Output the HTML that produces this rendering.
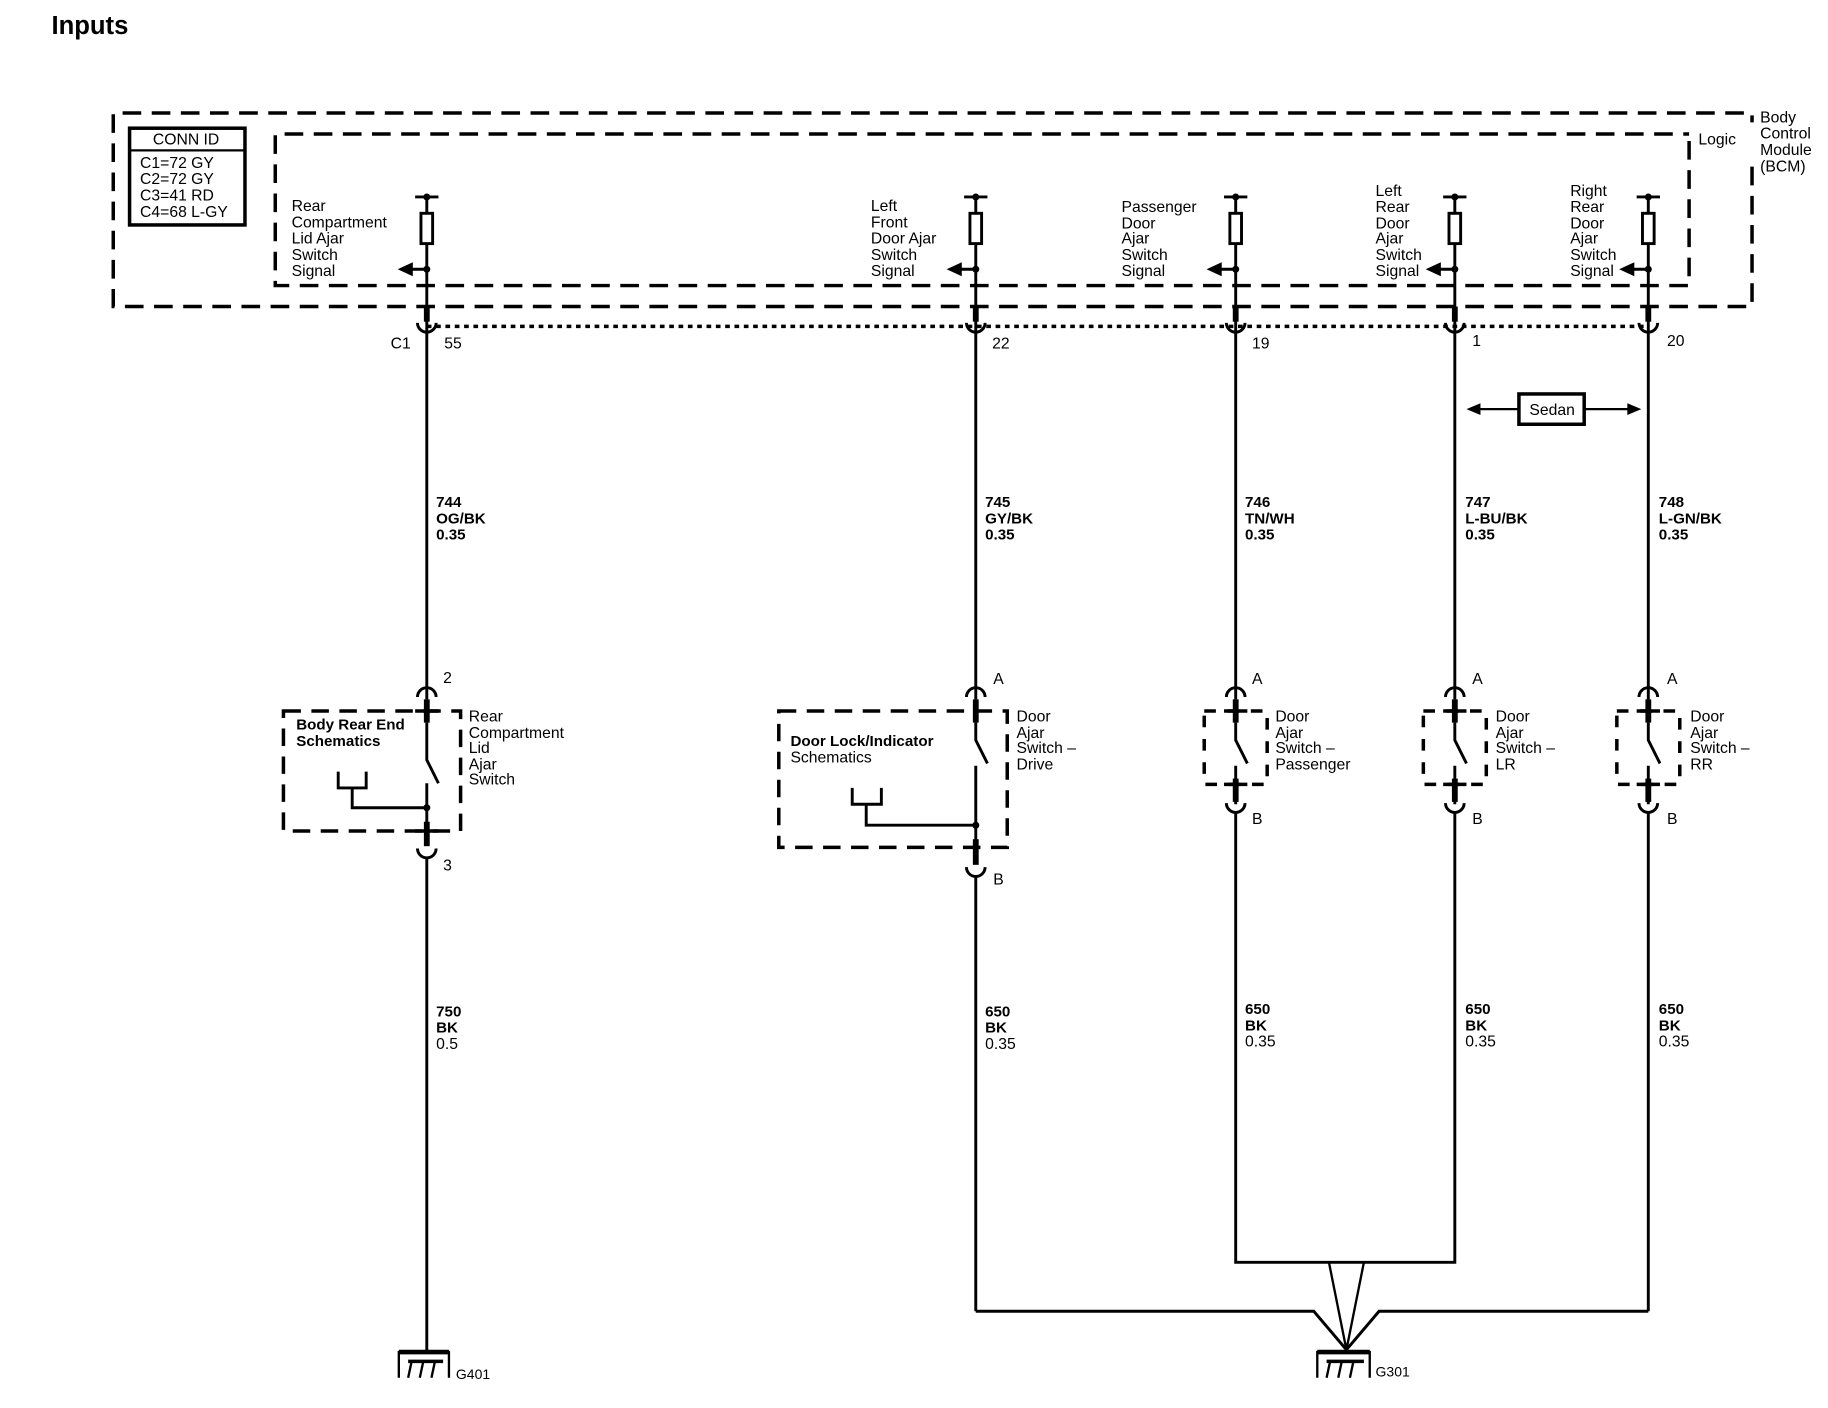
<!DOCTYPE html>
<html><head><meta charset="utf-8"><style>
html,body{margin:0;padding:0;background:#fff;}
svg{display:block}
text{font-family:"Liberation Sans",sans-serif;font-size:13.5px;fill:#000;letter-spacing:0px}
.b{font-weight:bold;font-size:13px}
</style></head><body>
<svg width="1828" height="1408" viewBox="0 0 1568 1208" xmlns="http://www.w3.org/2000/svg">
<g fill="none" stroke="#000">
<path d="M1503,143 V263 H97 V97 H1503 V105" stroke-width="3" stroke-dasharray="16 9"/>
<path d="M1449,121 V245 H236 V115 H1449" stroke-width="3" stroke-dasharray="16 9"/>
<rect x="111" y="110" width="99" height="83" stroke-width="3"/>
<line x1="111" y1="129" x2="210" y2="129" stroke-width="2"/>
<line x1="366" y1="280" x2="1414" y2="280" stroke-width="3" stroke-dasharray="4 4"/>
</g>
<text x="44" y="29" class="b" style="font-size:22px">Inputs</text>
<text x="131" y="124">CONN ID</text>
<text x="120" y="144">C1=72 GY</text>
<text x="120" y="158">C2=72 GY</text>
<text x="120" y="172">C3=41 RD</text>
<text x="120" y="186">C4=68 L-GY</text>
<text x="1510" y="105">Body</text>
<text x="1510" y="119">Control</text>
<text x="1510" y="133">Module</text>
<text x="1510" y="147">(BCM)</text>
<text x="1457" y="124">Logic</text>

<g stroke="#000" fill="none">
<g>
<line x1="366" y1="169" x2="366" y2="600" stroke-width="2.5"/>
<line x1="356" y1="169" x2="376" y2="169" stroke-width="2.5"/>
<rect x="361" y="183" width="10" height="26" stroke-width="2.5" fill="#fff"/>
<line x1="366" y1="231" x2="352" y2="231" stroke-width="2.5"/>
<line x1="366" y1="263" x2="366" y2="276" stroke-width="5"/>
<path d="M358,277 A8,8 0 0 0 374,277" stroke-width="2.5"/>
</g>
<g>
<line x1="837" y1="169" x2="837" y2="600" stroke-width="2.5"/>
<line x1="827" y1="169" x2="847" y2="169" stroke-width="2.5"/>
<rect x="832" y="183" width="10" height="26" stroke-width="2.5" fill="#fff"/>
<line x1="837" y1="231" x2="823" y2="231" stroke-width="2.5"/>
<line x1="837" y1="263" x2="837" y2="276" stroke-width="5"/>
<path d="M829,277 A8,8 0 0 0 845,277" stroke-width="2.5"/>
</g>
<g>
<line x1="1060" y1="169" x2="1060" y2="600" stroke-width="2.5"/>
<line x1="1050" y1="169" x2="1070" y2="169" stroke-width="2.5"/>
<rect x="1055" y="183" width="10" height="26" stroke-width="2.5" fill="#fff"/>
<line x1="1060" y1="231" x2="1046" y2="231" stroke-width="2.5"/>
<line x1="1060" y1="263" x2="1060" y2="276" stroke-width="5"/>
<path d="M1052,277 A8,8 0 0 0 1068,277" stroke-width="2.5"/>
</g>
<g>
<line x1="1248" y1="169" x2="1248" y2="600" stroke-width="2.5"/>
<line x1="1238" y1="169" x2="1258" y2="169" stroke-width="2.5"/>
<rect x="1243" y="183" width="10" height="26" stroke-width="2.5" fill="#fff"/>
<line x1="1248" y1="231" x2="1234" y2="231" stroke-width="2.5"/>
<line x1="1248" y1="263" x2="1248" y2="276" stroke-width="5"/>
<path d="M1240,277 A8,8 0 0 0 1256,277" stroke-width="2.5"/>
</g>
<g>
<line x1="1414" y1="169" x2="1414" y2="600" stroke-width="2.5"/>
<line x1="1404" y1="169" x2="1424" y2="169" stroke-width="2.5"/>
<rect x="1409" y="183" width="10" height="26" stroke-width="2.5" fill="#fff"/>
<line x1="1414" y1="231" x2="1400" y2="231" stroke-width="2.5"/>
<line x1="1414" y1="263" x2="1414" y2="276" stroke-width="5"/>
<path d="M1406,277 A8,8 0 0 0 1422,277" stroke-width="2.5"/>
</g>
</g>
<g fill="#000">
<circle cx="366" cy="169" r="3"/><circle cx="366" cy="231" r="3"/><path d="M341,231 L354,225 V237 Z"/>
<circle cx="837" cy="169" r="3"/><circle cx="837" cy="231" r="3"/><path d="M812,231 L825,225 V237 Z"/>
<circle cx="1060" cy="169" r="3"/><circle cx="1060" cy="231" r="3"/><path d="M1035,231 L1048,225 V237 Z"/>
<circle cx="1248" cy="169" r="3"/><circle cx="1248" cy="231" r="3"/><path d="M1223,231 L1236,225 V237 Z"/>
<circle cx="1414" cy="169" r="3"/><circle cx="1414" cy="231" r="3"/><path d="M1389,231 L1402,225 V237 Z"/>
</g>
<text x="250" y="181">Rear</text><text x="250" y="195">Compartment</text><text x="250" y="209">Lid Ajar</text><text x="250" y="223">Switch</text><text x="250" y="237">Signal</text>
<text x="747" y="181">Left</text><text x="747" y="195">Front</text><text x="747" y="209">Door Ajar</text><text x="747" y="223">Switch</text><text x="747" y="237">Signal</text>
<text x="962" y="182">Passenger</text><text x="962" y="196">Door</text><text x="962" y="209">Ajar</text><text x="962" y="223">Switch</text><text x="962" y="237">Signal</text>
<text x="1180" y="168">Left</text><text x="1180" y="182">Rear</text><text x="1180" y="196">Door</text><text x="1180" y="209">Ajar</text><text x="1180" y="223">Switch</text><text x="1180" y="237">Signal</text>
<text x="1347" y="168">Right</text><text x="1347" y="182">Rear</text><text x="1347" y="196">Door</text><text x="1347" y="209">Ajar</text><text x="1347" y="223">Switch</text><text x="1347" y="237">Signal</text>

<text x="335" y="299">C1</text><text x="381" y="299">55</text>
<text x="851" y="299">22</text><text x="1074" y="299">19</text><text x="1263" y="297">1</text><text x="1430" y="297">20</text>

<g stroke="#000" fill="none" stroke-width="2">
<rect x="1303" y="338" width="56" height="26" stroke-width="3"/>
<line x1="1264" y1="351" x2="1303" y2="351"/><line x1="1359" y1="351" x2="1402" y2="351"/>
</g>
<path d="M1258,351 L1270,346 V356 Z M1408,351 L1396,346 V356 Z" fill="#000"/>
<text x="1312" y="356">Sedan</text>

<text x="374" y="435" class="b">744</text><text x="374" y="449" class="b">OG/BK</text><text x="374" y="463" class="b">0.35</text>
<text x="845" y="435" class="b">745</text><text x="845" y="449" class="b">GY/BK</text><text x="845" y="463" class="b">0.35</text>
<text x="1068" y="435" class="b">746</text><text x="1068" y="449" class="b">TN/WH</text><text x="1068" y="463" class="b">0.35</text>
<text x="1257" y="435" class="b">747</text><text x="1257" y="449" class="b">L-BU/BK</text><text x="1257" y="463" class="b">0.35</text>
<text x="1423" y="435" class="b">748</text><text x="1423" y="449" class="b">L-GN/BK</text><text x="1423" y="463" class="b">0.35</text>

<g stroke="#000" fill="none" stroke-width="2.5">
<path d="M358,598 A8,8 0 0 1 374,598"/><path d="M829,598 A8,8 0 0 1 845,598"/><path d="M1052,598 A8,8 0 0 1 1068,598"/><path d="M1240,598 A8,8 0 0 1 1256,598"/><path d="M1406,598 A8,8 0 0 1 1422,598"/>
<g stroke-width="5">
<line x1="366" y1="600" x2="366" y2="620"/><line x1="837" y1="600" x2="837" y2="620"/><line x1="1060" y1="600" x2="1060" y2="620"/><line x1="1248" y1="600" x2="1248" y2="620"/><line x1="1414" y1="600" x2="1414" y2="620"/>
</g>
<rect x="243" y="610" width="152" height="103" stroke-width="3" stroke-dasharray="15 9"/>
<path d="M366,620 V652 L376,672"/>
<path d="M366,672 V720"/>
<path d="M366,693 H302 V676 M290,662 V676 H314 V662"/>
<line x1="366" y1="705" x2="366" y2="726" stroke-width="5"/>
<path d="M358,728 A8,8 0 0 0 374,728"/>
<line x1="366" y1="736" x2="366" y2="1160"/>
<rect x="668" y="610" width="196" height="117" stroke-width="3" stroke-dasharray="15 9"/>
<path d="M837,620 V635 L847,655"/>
<path d="M837,657 V740"/>
<path d="M837,708 H743 V690 M731,676 V690 H756 V676"/>
<line x1="837" y1="720" x2="837" y2="742" stroke-width="5"/>
<path d="M829,744 A8,8 0 0 0 845,744"/>
<line x1="837" y1="752" x2="837" y2="1125"/>
<g stroke-width="3" stroke-dasharray="10 10">
<rect x="1033" y="610" width="54" height="63"/><rect x="1221" y="610" width="54" height="63"/><rect x="1387" y="610" width="54" height="63"/>
</g>
<path d="M1060,620 V635 L1070,655 M1060,657 V690"/>
<path d="M1248,620 V635 L1258,655 M1248,657 V690"/>
<path d="M1414,620 V635 L1424,655 M1414,657 V690"/>
<g stroke-width="5">
<line x1="1060" y1="668" x2="1060" y2="688"/><line x1="1248" y1="668" x2="1248" y2="688"/><line x1="1414" y1="668" x2="1414" y2="688"/>
<line x1="1050" y1="673" x2="1070" y2="673" stroke-width="3"/><line x1="1238" y1="673" x2="1258" y2="673" stroke-width="3"/><line x1="1404" y1="673" x2="1424" y2="673" stroke-width="3"/>
<line x1="1050" y1="610" x2="1070" y2="610" stroke-width="3"/><line x1="1238" y1="610" x2="1258" y2="610" stroke-width="3"/><line x1="1404" y1="610" x2="1424" y2="610" stroke-width="3"/>
<line x1="356" y1="610" x2="376" y2="610" stroke-width="3"/><line x1="356" y1="713" x2="376" y2="713" stroke-width="3"/>
</g>
<path d="M1052,689 A8,8 0 0 0 1068,689"/><path d="M1240,689 A8,8 0 0 0 1256,689"/><path d="M1406,689 A8,8 0 0 0 1422,689"/>
<path d="M1060,697 V1083 H1248 V697"/>
<line x1="1414" y1="697" x2="1414" y2="1125"/>
<path d="M837,1125 H1127 L1155,1158 L1183,1125 H1414"/>
<path d="M1140,1083 L1155,1158 L1170,1083" stroke-width="2"/>
<path d="M342,1182 V1160 H385 V1182" stroke-width="2"/>
<line x1="342" y1="1160" x2="385" y2="1160" stroke-width="4"/>
<line x1="350" y1="1168" x2="380" y2="1168" stroke-width="3"/>
<path d="M350,1182 L353,1168 M360,1182 L363,1168 M370,1182 L373,1168" stroke-width="2"/>
<path d="M1130,1182 V1160 H1175 V1182" stroke-width="2"/>
<line x1="1130" y1="1160" x2="1175" y2="1160" stroke-width="4"/>
<line x1="1138" y1="1168" x2="1170" y2="1168" stroke-width="3"/>
<path d="M1138,1182 L1141,1168 M1148,1182 L1151,1168 M1158,1182 L1161,1168" stroke-width="2"/>
</g>
<g fill="#000"><circle cx="366" cy="693" r="3"/><circle cx="837" cy="708" r="3"/></g>

<text x="380" y="586">2</text><text x="852" y="587">A</text><text x="1074" y="587">A</text><text x="1263" y="587">A</text><text x="1430" y="587">A</text>
<text x="380" y="747">3</text><text x="852" y="759">B</text><text x="1074" y="707">B</text><text x="1263" y="707">B</text><text x="1430" y="707">B</text>
<text x="254" y="626" class="b">Body Rear End</text><text x="254" y="640" class="b">Schematics</text>
<text x="402" y="619">Rear</text><text x="402" y="633">Compartment</text><text x="402" y="646">Lid</text><text x="402" y="660">Ajar</text><text x="402" y="673">Switch</text>
<text x="678" y="640" class="b">Door Lock/Indicator</text><text x="678" y="654">Schematics</text>
<text x="872" y="619">Door</text><text x="872" y="633">Ajar</text><text x="872" y="646">Switch –</text><text x="872" y="660">Drive</text>
<text x="1094" y="619">Door</text><text x="1094" y="633">Ajar</text><text x="1094" y="646">Switch –</text><text x="1094" y="660">Passenger</text>
<text x="1283" y="619">Door</text><text x="1283" y="633">Ajar</text><text x="1283" y="646">Switch –</text><text x="1283" y="660">LR</text>
<text x="1450" y="619">Door</text><text x="1450" y="633">Ajar</text><text x="1450" y="646">Switch –</text><text x="1450" y="660">RR</text>

<text x="374" y="872" class="b">750</text><text x="374" y="886" class="b">BK</text><text x="374" y="900">0.5</text>
<text x="845" y="872" class="b">650</text><text x="845" y="886" class="b">BK</text><text x="845" y="900">0.35</text>
<text x="1068" y="870" class="b">650</text><text x="1068" y="884" class="b">BK</text><text x="1068" y="898">0.35</text>
<text x="1257" y="870" class="b">650</text><text x="1257" y="884" class="b">BK</text><text x="1257" y="898">0.35</text>
<text x="1423" y="870" class="b">650</text><text x="1423" y="884" class="b">BK</text><text x="1423" y="898">0.35</text>
<text x="391" y="1183" style="font-size:12px">G401</text>
<text x="1180" y="1181" style="font-size:12px">G301</text>
</svg>
</body></html>
